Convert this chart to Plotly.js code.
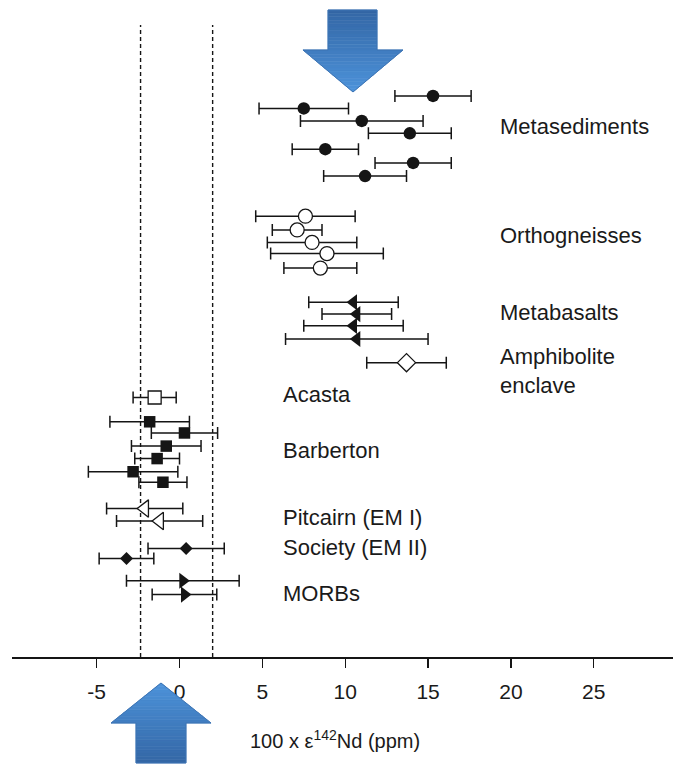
<!DOCTYPE html>
<html>
<head>
<meta charset="utf-8">
<script src="https://cdn.plot.ly/plotly-3.0.1.min.js"></script>
<style>html,body{margin:0;padding:0;background:#fff;}#chart{width:673px;height:765px;}</style>
</head>
<body>
<div id="chart"></div>
<script>
// ---- data: x = 100 x eps142Nd (ppm), err = 2 sigma, row = vertical position (0 top .. 100 axis)
const metaSedX   = [15.3, 7.5, 11.0, 13.9, 8.8, 14.1, 11.2];
const metaSedErr = [2.3, 2.7, 3.7, 2.5, 2.0, 2.3, 2.5];
const metaSedRow = [14.6, 16.5, 18.4, 20.3, 22.7, 24.8, 26.8];

const orthoX   = [7.6, 7.1, 8.0, 8.9, 8.5];
const orthoErr = [3.0, 1.5, 2.7, 3.4, 2.2];
const orthoRow = [32.9, 35.0, 36.9, 38.6, 40.8];

const metaBasX   = [10.5, 10.7, 10.5, 10.7];
const metaBasErr = [2.7, 2.1, 3.0, 4.3];
const metaBasRow = [46.0, 47.8, 49.6, 51.6];

const amphX   = [13.7];
const amphErr = [2.4];
const amphRow = [55.2];

const acastaX   = [-1.5];
const acastaErr = [1.3];
const acastaRow = [60.5];

const barbX   = [-1.8, 0.3, -0.8, -1.35, -2.8, -1.0];
const barbErr = [2.4, 2.0, 2.1, 1.35, 2.7, 1.45];
const barbRow = [64.2, 65.9, 67.9, 69.8, 71.8, 73.4];

const pitX   = [-2.1, -1.2];
const pitErr = [2.3, 2.6];
const pitRow = [77.4, 79.3];

const socX   = [0.4, -3.2];
const socErr = [2.3, 1.65];
const socRow = [83.5, 85.0];

const morbX   = [0.2, 0.3];
const morbErr = [3.4, 1.95];
const morbRow = [88.4, 90.5];

const bounds = [-2.35, 2.0];   // dashed reference lines
const tickVals = [-5, 0, 5, 10, 15, 20, 25];
const tickText = ['-5', '0', '5', '10', '15', '20', '25'];

const labels = ['Metasediments', 'Orthogneisses', 'Metabasalts', 'Amphibolite<br>enclave',
                'Acasta', 'Barberton', 'Pitcairn (EM I)', 'Society (EM II)', 'MORBs'];
const labelX   = [19.2, 19.2, 19.2, 19.2, 6.1, 6.1, 6.1, 6.1, 6.1];
const labelRow = [19.2, 35.8, 47.6, 56.5, 60.1, 68.5, 78.7, 83.4, 90.4];

// ---- styling
const INK = '#151515';
const FONT = 'Liberation Sans, Arial, sans-serif';
function series(x, err, row, symbol, size, filled) {
  return {
    type: 'scatter', mode: 'markers', x: x, y: row, showlegend: false, hoverinfo: 'x',
    error_x: {type: 'data', array: err, visible: true, color: INK, thickness: 1.5, width: 6},
    marker: {symbol: symbol, size: size,
             color: filled ? INK : '#ffffff',
             line: {color: INK, width: filled ? 0 : 1.3}}
  };
}

const traces = [
  series(metaSedX, metaSedErr, metaSedRow, 'circle', 12.5, true),
  series(orthoX, orthoErr, orthoRow, 'circle', 14, false),
  series(metaBasX, metaBasErr, metaBasRow, 'triangle-left', 14, true),
  series(amphX, amphErr, amphRow, 'diamond', 14, false),
  series(acastaX, acastaErr, acastaRow, 'square', 13, false),
  series(barbX, barbErr, barbRow, 'square', 11.5, true),
  series(pitX, pitErr, pitRow, 'triangle-left', 15, false),
  series(socX, socErr, socRow, 'diamond', 10, true),
  series(morbX, morbErr, morbRow, 'triangle-right', 14, true)
];

// page geometry helpers (for decorative arrows)
const W = 673, H = 765, ML = 12, MR = 0, MT = 0, MB = 108;
const PW = W - ML - MR, PH = H - MT - MB;
const px = v => ((v - ML) / PW).toFixed(4);
const py = v => ((PH + MT - v) / PH).toFixed(4);
function poly(pts) {
  return 'M' + pts.map(p => px(p[0]) + ',' + py(p[1])).join(' L') + ' Z';
}
function mix(c1, c2, t) {
  const a = [1,3,5].map(i => parseInt(c1.substr(i,2),16));
  const b = [1,3,5].map(i => parseInt(c2.substr(i,2),16));
  return 'rgb(' + a.map((v,i) => Math.round(v + (b[i]-v)*t)).join(',') + ')';
}
// arrow: tail y, head-base y, tip y, shaft x0/x1, head x0/x1, tip x; gradient tail(dark) -> tip(light)
function arrowShapes(tailY, baseY, tipY, sx0, sx1, hx0, hx1, tipX) {
  const out = [];
  const N = 24;
  const halfAt = y => { // head half-widths
    const t = (y - baseY) / (tipY - baseY);
    return [hx0 + (tipX - hx0) * t, hx1 + (tipX - hx1) * t];
  };
  const cuts = [];
  for (let i = 0; i <= N; i++) cuts.push(tailY + (tipY - tailY) * i / N);
  cuts.push(baseY);
  const dir = Math.sign(tipY - tailY);
  cuts.sort((a, b) => dir * (a - b));
  for (let i = 0; i < cuts.length - 1; i++) {
    const a = cuts[i], b = cuts[i + 1];
    if (a === b) continue;
    const mid = (a + b) / 2;
    const t = (mid - tailY) / (tipY - tailY);
    let pts;
    const inShaft = dir * (mid - baseY) < 0;
    if (inShaft) pts = [[sx0, a], [sx1, a], [sx1, b], [sx0, b]];
    else { const wa = halfAt(a), wb = halfAt(b); pts = [[wa[0], a], [wa[1], a], [wb[1], b], [wb[0], b]]; }
    out.push({type: 'path', xref: 'paper', yref: 'paper', path: poly(pts),
              fillcolor: mix('#3366a5', '#4d93da', t), line: {width: 0.6, color: mix('#3366a5', '#4d93da', t)}, layer: 'above'});
  }
  out.push({type: 'path', xref: 'paper', yref: 'paper', layer: 'above',
            path: poly([[sx0, tailY], [sx1, tailY], [sx1, baseY], [hx1, baseY], [tipX, tipY], [hx0, baseY], [sx0, baseY]]),
            fillcolor: 'rgba(0,0,0,0)', line: {color: '#3d74b4', width: 1}});
  return out;
}

const shapes = bounds.map(b => ({
  type: 'line', xref: 'x', yref: 'paper', x0: b, x1: b, y0: 0, y1: 0.962,
  line: {color: INK, width: 1.4, dash: '4px,3px'}, layer: 'below'
}));
shapes.push(...arrowShapes(10, 50, 92, 328, 377, 303, 403, 353));
shapes.push(...arrowShapes(763, 723, 683, 136, 186, 111, 211, 161));

const annotations = labels.map((t, i) => ({
  text: t, x: labelX[i], y: labelRow[i], xref: 'x', yref: 'y',
  xanchor: 'left', yanchor: 'middle', align: 'left', showarrow: false,
  font: {family: FONT, size: 22, color: '#1a1a1a'}
}));
annotations.push({
  text: '100 x \u03b5<sup>142</sup>Nd (ppm)', xref: 'x', yref: 'paper',
  x: 9.4, y: py(740), xanchor: 'center', yanchor: 'middle', showarrow: false,
  font: {family: FONT, size: 20, color: '#1a1a1a'}
});

const layout = {
  width: W, height: H,
  margin: {l: ML, r: MR, t: MT, b: MB, pad: 0},
  paper_bgcolor: '#ffffff', plot_bgcolor: '#ffffff',
  showlegend: false,
  xaxis: {
    range: [(ML - 179.5) / 16.57, (W - 179.5) / 16.57],
    tickvals: tickVals, ticktext: tickText,
    ticks: 'outside', ticklen: 9, tickwidth: 1.3, tickcolor: INK,
    showline: true, linecolor: INK, linewidth: 1.5,
    showgrid: false, zeroline: false, ticklabelstandoff: 6,
    tickfont: {family: FONT, size: 21, color: '#1a1a1a'}
  },
  yaxis: {range: [100, 0], visible: false, showgrid: false, zeroline: false},
  shapes: shapes,
  annotations: annotations
};

Plotly.newPlot('chart', traces, layout, {displayModeBar: false, staticPlot: true});
</script>
</body>
</html>
